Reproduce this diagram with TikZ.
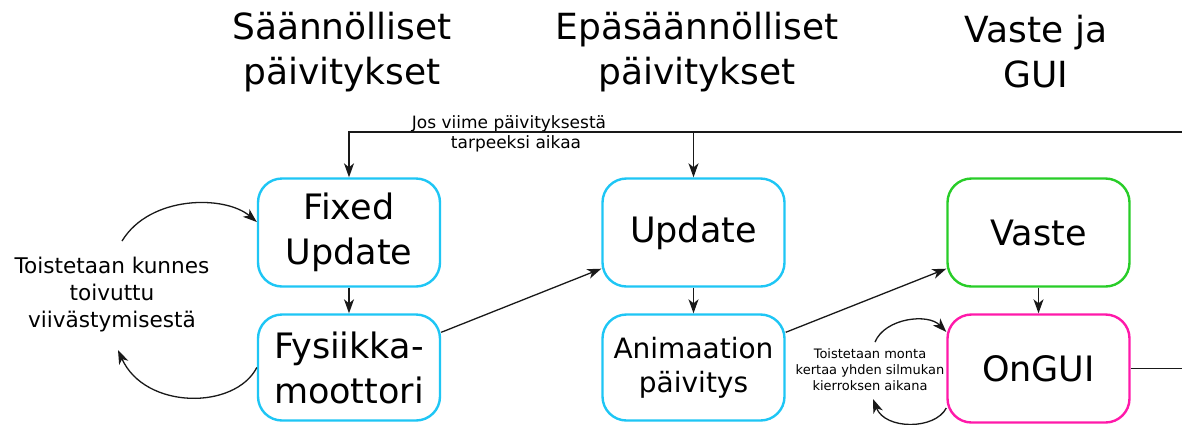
\documentclass[tikz,border=0pt]{standalone}
\usepackage{fontspec}
\setmainfont{DejaVu Sans}
\usetikzlibrary{arrows.meta}
\definecolor{boxcyan}{RGB}{30,198,245}
\definecolor{boxgreen}{RGB}{40,205,40}
\definecolor{boxmagenta}{RGB}{255,25,170}
\begin{document}
\begin{tikzpicture}[x=1pt,y=-1pt,
  stage/.style={draw=boxcyan, line width=2.4pt, rounded corners=24pt,
    minimum width=182pt, minimum height=108pt, inner sep=0pt, align=center,
    font=\fontsize{35}{45}\selectfont},
  title/.style={align=center, font=\fontsize{36}{45}\selectfont},
  note/.style={align=center, font=\fontsize{21.6}{27}\selectfont},
  small/.style={align=center, font=\fontsize{13}{16}\selectfont},
  cond/.style={anchor=base, font=\fontsize{17}{21}\selectfont},
  flow/.style={line width=1.3pt, draw=black!90,
    -{Stealth[length=14pt,width=10pt,inset=4pt]}}]

% canvas
\fill[white] (0,0) rectangle (1182,424);
\useasboundingbox (0,0) rectangle (1182,424);

% column titles
\node[title] (t1) at (342,52) {Säännölliset\\päivitykset};
\node[title] (t2) at (697,52) {Epäsäännölliset\\päivitykset};
\node[title] (t3) at (1036,52) {Vaste ja\\GUI};

% stages of the loop
\node[stage] (fixed) at (349,232.5) {Fixed\\Update};
\node[stage, minimum height=106pt] (fys) at (349,367.5) {Fysiikka-\\moottori};
\node[stage] (upd) at (693.5,232.5) {Update};
\node[stage, minimum height=106pt, font=\fontsize{28}{34}\selectfont] (anim) at (693.5,367.5) {Animaation\\päivitys};
\node[stage, draw=boxgreen] (vaste) at (1038.5,232.5) {Vaste};
\node[stage, draw=boxmagenta] (ongui) at (1038.5,368.5) {OnGUI};

% notes
\node[note] (rep) at (112,295) {Toistetaan kunnes\\toivuttu\\viivästymisestä};
\node[small] (rep2) at (870,370) {Toistetaan monta\\kertaa yhden silmukan\\kierroksen aikana};
\node[cond] (j1) at (509,128) {Jos viime päivityksestä};
\node[cond] (j2) at (516,148.5) {tarpeeksi aikaa};

% straight flow
\draw[flow] (fixed.south) -- (fys.north);
\draw[flow] (upd.south) -- (anim.north);
\draw[flow] (vaste.south) -- (ongui.north);
\draw[flow] ([yshift=-19pt]fys.north east) -- ([yshift=19pt]upd.south west);
\draw[flow] ([yshift=-19pt]anim.north east) -- ([yshift=19pt]vaste.south west);

% return to the start of the frame, running along the right edge
\coordinate (rc) at (1182.3,368.5);
\coordinate (tc) at (1182.3,132);
\draw[flow] (ongui.east) -- (rc) -- (tc) -| (fixed.north);
\draw[flow] (tc -| upd.north) -- (upd.north);

% repeat loop of the fixed step
\coordinate (la) at (122,241);
\coordinate (lb) at (118,350);
\draw[flow] (la) .. controls (150,195) and (225,195) .. ([yshift=10.5pt]fixed.west);
\draw[flow] (fys.west) .. controls (235,410) and (145,410) .. (lb);

% repeat loop of the GUI step
\coordinate (ra) at (875,342);
\coordinate (rb) at (873,399);
\draw[flow] (ra) .. controls (885,318) and (928,313) .. ([yshift=36.5pt]ongui.west);
\draw[flow] ([yshift=-39.5pt]ongui.west) .. controls (935,430) and (885,430) .. (rb);
\end{tikzpicture}
\end{document}
